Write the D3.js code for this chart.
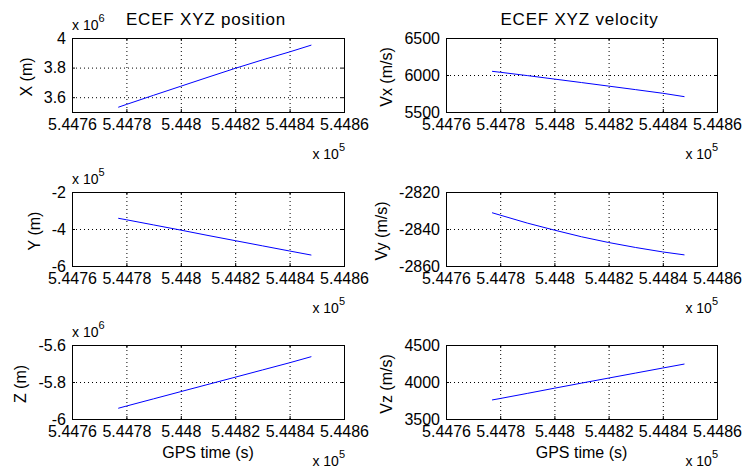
<!DOCTYPE html>
<html><head><meta charset="utf-8">
<script src="https://cdn.jsdelivr.net/npm/d3@7"></script>
<style>
body{margin:0;background:#fff;}
svg{display:block;}
text{font-family:Arial,"Liberation Sans",sans-serif;fill:#000;}
</style></head>
<body><svg id="fig" width="744" height="470"></svg>
<script>
// ---- data ----
const gpsTime = [544777, 544780, 544790, 544800, 544810, 544820, 544830, 544840, 544848];
const posX = [3.532e6, 3.551e6, 3.613e6, 3.674e6, 3.735e6, 3.795e6, 3.852e6, 3.906e6, 3.952e6];
const posY = [-3.42e5, -3.50e5, -3.78e5, -4.06e5, -4.35e5, -4.63e5, -4.91e5, -5.19e5, -5.41e5];
const posZ = [-5.942e6, -5.930e6, -5.891e6, -5.852e6, -5.813e6, -5.774e6, -5.735e6, -5.696e6, -5.663e6];
const velX = [6050, 6037, 5992, 5945, 5898, 5850, 5802, 5753, 5707];
const velY = [-2831.2, -2832.5, -2836.8, -2840.6, -2844.2, -2847.3, -2850.0, -2852.4, -2854.0];
const velZ = [3757, 3777, 3846, 3916, 3985, 4053, 4121, 4189, 4243];

const xDomain = [544760, 544860];
const xTicks = [544760, 544780, 544800, 544820, 544840, 544860];
const xTickLabels = ["5.4476", "5.4478", "5.448", "5.4482", "5.4484", "5.4486"];
const xExponent = "5";

const titles = ["ECEF XYZ position", "ECEF XYZ velocity"];
const yLabels = [["X (m)", "Y (m)", "Z (m)"], ["Vx (m/s)", "Vy (m/s)", "Vz (m/s)"]];
const xLabel = "GPS time (s)";

const yDomains = [
  [[3.5e6, 4e6], [-6e5, -2e5], [-6e6, -5.6e6]],
  [[5500, 6500], [-2860, -2820], [3500, 4500]]
];
const yTicks = [
  [[3.6e6, 3.8e6, 4e6], [-6e5, -4e5, -2e5], [-6e6, -5.8e6, -5.6e6]],
  [[5500, 6000, 6500], [-2860, -2840, -2820], [3500, 4000, 4500]]
];
const yTickLabels = [
  [["3.6", "3.8", "4"], ["-6", "-4", "-2"], ["-6", "-5.8", "-5.6"]],
  [["5500", "6000", "6500"], ["-2860", "-2840", "-2820"], ["3500", "4000", "4500"]]
];
const yExponents = [["6", "5", "6"], [null, null, null]];
const series = [[posX, posY, posZ], [velX, velY, velZ]];

// ---- layout ----
const cols = [[72, 344], [446, 717]];
const rows = [[38, 112], [192, 266], [345, 419]];

const svg = d3.select("#fig");
svg.append("rect").attr("width", 744).attr("height", 470).attr("fill", "#fff");

function expLabel(g, x, y, exp, anchor) {
  const t = g.append("text").attr("x", x).attr("y", y).attr("font-size", 14)
    .attr("text-anchor", anchor);
  t.append("tspan").text("x 10");
  t.append("tspan").attr("dy", -8).attr("font-size", 11).text(exp);
}

for (let c = 0; c < 2; c++) {
  for (let r = 0; r < 3; r++) {
    const [x0, x1] = cols[c], [y0, y1] = rows[r];
    const x = d3.scaleLinear().domain(xDomain).range([x0, x1]);
    const y = d3.scaleLinear().domain(yDomains[c][r]).range([y1, y0]);
    const g = svg.append("g");

    // grid (dotted)
    const gridX = xTicks.filter(t => t > xDomain[0] && t < xDomain[1]);
    const gridY = yTicks[c][r].filter(t => t > yDomains[c][r][0] && t < yDomains[c][r][1]);
    g.append("g").attr("transform", `translate(0,${y1})`)
      .call(d3.axisBottom(x).tickValues(gridX).tickSize(-(y1 - y0)).tickFormat(""))
      .call(s => s.select(".domain").remove())
      .call(s => s.selectAll("line").attr("stroke", "#000").attr("stroke-dasharray", "1,3"));
    g.append("g").attr("transform", `translate(${x0},0)`)
      .call(d3.axisLeft(y).tickValues(gridY).tickSize(-(x1 - x0)).tickFormat(""))
      .call(s => s.select(".domain").remove())
      .call(s => s.selectAll("line").attr("stroke", "#000").attr("stroke-dasharray", "1,3"));

    // data line
    const line = d3.line().x((d, i) => x(gpsTime[i])).y(d => y(d));
    g.append("path").datum(series[c][r]).attr("d", line)
      .attr("fill", "none").attr("stroke", "#0000ff").attr("stroke-width", 1);

    // axes with inward ticks
    const bottom = g.append("g").attr("transform", `translate(0,${y1})`)
      .call(d3.axisBottom(x).tickValues(xTicks).tickSize(-3).tickPadding(7)
        .tickFormat((d, i) => xTickLabels[i]));
    const left = g.append("g").attr("transform", `translate(${x0},0)`)
      .call(d3.axisLeft(y).tickValues(yTicks[c][r]).tickSize(-3).tickPadding(6)
        .tickFormat((d, i) => yTickLabels[c][r][i]));
    g.append("g").attr("transform", `translate(0,${y0})`)
      .call(d3.axisTop(x).tickValues(xTicks).tickSize(-3).tickFormat(""));
    g.append("g").attr("transform", `translate(${x1},0)`)
      .call(d3.axisRight(y).tickValues(yTicks[c][r]).tickSize(-3).tickFormat(""));
    g.selectAll(".domain").remove();
    g.selectAll(".tick line").filter(function(){ return !this.getAttribute("stroke-dasharray"); })
      .attr("stroke", "#000");
    g.selectAll(".tick text").attr("font-size", 16).attr("font-family", "Arial, 'Liberation Sans', sans-serif").attr("fill", "#000");
    bottom.selectAll(".tick text").attr("dy", "0.71em");

    // box
    g.append("rect").attr("x", x0).attr("y", y0).attr("width", x1 - x0).attr("height", y1 - y0)
      .attr("fill", "none").attr("stroke", "#000").attr("stroke-width", 1)
      .attr("shape-rendering", "crispEdges");

    // y label placed left of the widest tick label
    let maxW = 0;
    left.selectAll(".tick text").each(function(){ maxW = Math.max(maxW, this.getBBox().width); });
    const lx = x0 - 6 - maxW - 12;
    g.append("text").attr("transform", `translate(${lx},${(y0 + y1) / 2 + 2}) rotate(-90)`)
      .attr("text-anchor", "middle").attr("font-size", 16).text(yLabels[c][r]);

    // exponents
    if (yExponents[c][r]) expLabel(g, x0, y0 - 8, yExponents[c][r], "start");
    expLabel(g, x1 + 1, y1 + 47, xExponent, "end");

    if (r === 0) {
      g.append("text").attr("x", (x0 + x1) / 2 - 2).attr("y", 25).attr("text-anchor", "middle")
        .attr("font-size", 17).attr("letter-spacing", 0.8).text(titles[c]);
    }
    if (r === 2) {
      g.append("text").attr("x", (x0 + x1) / 2).attr("y", y1 + 39).attr("text-anchor", "middle")
        .attr("font-size", 16).text(xLabel);
    }
  }
}
</script></body></html>
